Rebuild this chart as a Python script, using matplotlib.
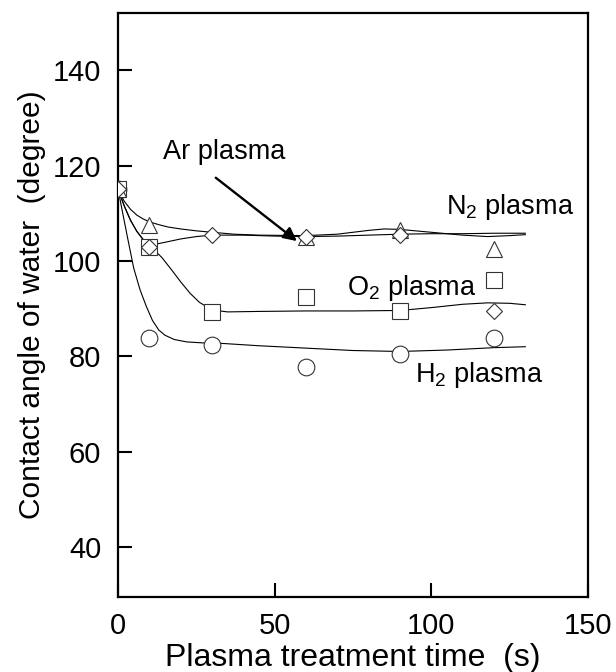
import matplotlib
matplotlib.use("Agg")
import matplotlib.pyplot as plt

plt.rcParams['font.family'] = ['Liberation Sans', 'DejaVu Sans']
plt.rcParams['mathtext.fontset'] = 'custom'
plt.rcParams['mathtext.rm'] = 'Liberation Sans'

# measured points
t_pts = [0, 10, 30, 60, 90, 120]
n2_pts = [115, 107.6, None, 105.0, 106.5, 102.5]
ar_pts = [115, 103.0, 105.5, 105.1, 105.5, 89.4]
o2_pts = [115, 102.9, 89.2, 92.4, 89.4, 96.0]
h2_pts = [115, 83.8, 82.4, 77.7, 80.5, 83.8]

# fitted curves
n2_t = [0, 2, 4, 6, 8, 10, 13, 16, 20, 25, 30, 37, 45, 60, 70, 80, 85, 90, 100, 110, 118, 125, 130]
n2_c = [115, 112.5, 110.8, 109.6, 108.8, 108.2, 107.6, 107.1, 106.7, 106.3, 106.0, 105.6, 105.4,
        105.3, 105.6, 106.4, 106.7, 106.6, 106.0, 105.4, 105.1, 105.3, 105.5]
ar_t = [0, 2, 4, 6, 8, 10, 12, 15, 20, 25, 30, 40, 50, 60, 70, 80, 90, 100, 110, 120, 130]
ar_c = [115, 111.5, 108.5, 106.2, 104.5, 103.5, 103.5, 103.9, 104.6, 105.1, 105.4, 105.4, 105.2,
        105.1, 105.2, 105.4, 105.6, 105.7, 105.7, 105.8, 105.8]
o2_t = [0, 2, 4, 6, 8, 10, 12, 14, 17, 20, 23, 26, 30, 35, 45, 60, 75, 90, 100, 110, 118, 125, 130]
o2_c = [115, 111.5, 108.5, 106.2, 104.5, 103.2, 102.0, 100.7, 98.2, 95.6, 93.2, 91.3, 89.7, 89.3,
        89.4, 89.5, 89.5, 89.6, 90.2, 90.9, 91.2, 91.1, 90.8]
h2_t = [0, 1.5, 3, 5, 7, 9, 11, 13, 15, 18, 22, 27, 33, 45, 60, 75, 90, 105, 120, 130]
h2_c = [115, 110, 105, 98.5, 94, 90.5, 87.5, 85.5, 84.4, 83.5, 83.0, 82.8, 82.7, 82.2, 81.7,
        81.2, 81.0, 81.3, 81.8, 82.0]

fig = plt.figure(figsize=(6.16, 6.72), dpi=100)
ax = fig.add_axes([0.1916, 0.1116, 0.7629, 0.8691])

lw = 0.8
for tt, cc in [(n2_t, n2_c), (ar_t, ar_c), (o2_t, o2_c), (h2_t, h2_c)]:
    ax.plot(tt, cc, color='black', lw=lw, zorder=2)

def pts(vals):
    xs = [t for t, v in zip(t_pts, vals) if v is not None]
    ys = [v for v in vals if v is not None]
    return xs, ys

mk = dict(linestyle='none', markerfacecolor='white', markeredgecolor='#333333',
          markeredgewidth=0.8, zorder=3)
ax.plot(*pts(h2_pts), marker='o', markersize=12, **mk)
ax.plot(*pts(o2_pts), marker='s', markersize=11, **mk)
ax.plot(*pts(n2_pts), marker='^', markersize=11, **mk)
ax.plot(*pts(ar_pts), marker='D', markersize=8.5, **mk)

fs = 19.5
ax.text(104.7, 111.4, 'N$_2$ plasma', fontsize=fs, va='center', ha='left')
ax.text(73.1, 94.3, 'O$_2$ plasma', fontsize=fs, va='center', ha='left')
ax.text(94.8, 76.0, 'H$_2$ plasma', fontsize=fs, va='center', ha='left')
ax.text(14.4, 122.9, 'Ar plasma', fontsize=fs, va='center', ha='left')
ax.annotate('', xy=(57.8, 103.8), xytext=(30.5, 117.8),
            arrowprops=dict(arrowstyle='-|>', color='black', lw=1.7, mutation_scale=20))

ax.set_xlim(0, 150)
ax.set_ylim(29.5, 152)
ax.set_xticks([0, 50, 100, 150])
ax.set_yticks([40, 60, 80, 100, 120, 140])
ax.tick_params(direction='in', length=10, width=1.5, labelsize=21)
ax.tick_params(axis='x', pad=11)
ax.tick_params(axis='y', pad=12)
for s in ax.spines.values():
    s.set_linewidth(1.6)
ax.set_xlabel('Plasma treatment time  (s)', fontsize=23)
ax.set_ylabel('Contact angle of water  (degree)', fontsize=21.5)
ax.xaxis.set_label_coords(0.5, -0.104)
ax.xaxis.label.set_va('center')
ax.yaxis.set_label_coords(-0.183, 0.5)
ax.yaxis.label.set_va('center')

fig.savefig('out.png', dpi=100)
